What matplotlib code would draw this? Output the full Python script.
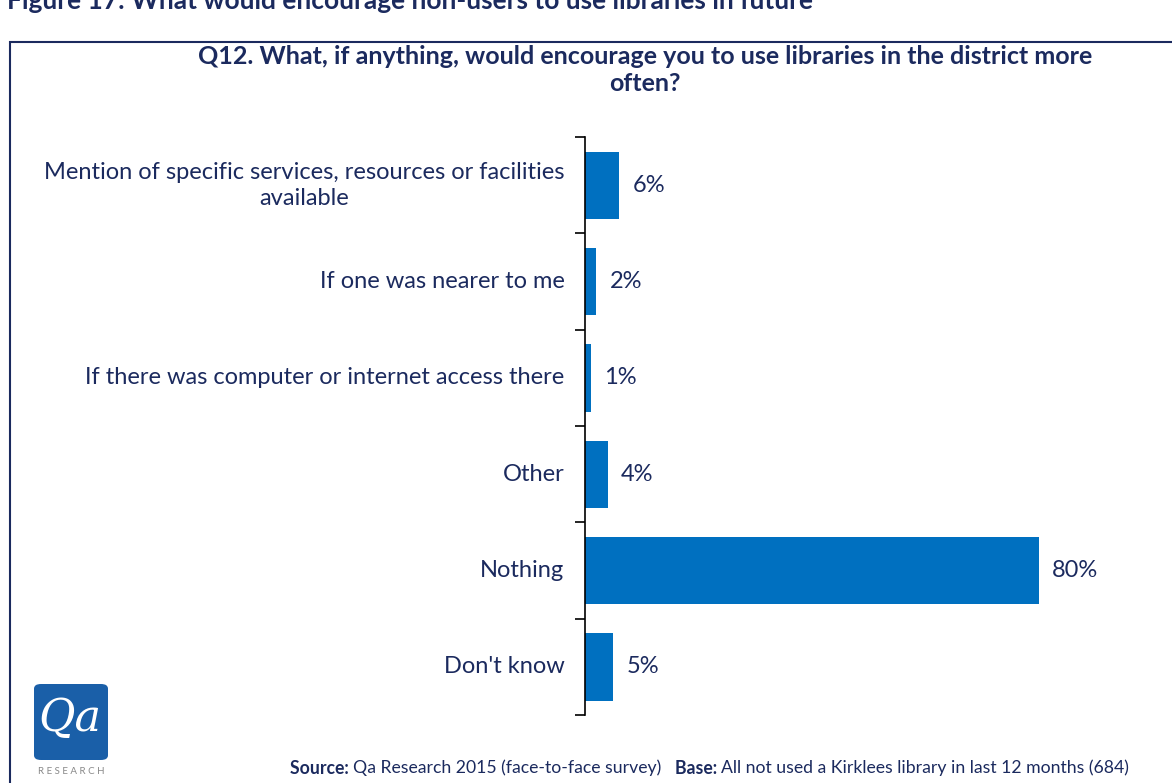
import matplotlib.pyplot as plt
from matplotlib.patches import Rectangle, FancyBboxPatch

# 数据
categories = [
    "Mention of specific services, resources or facilities\navailable",
    "If one was nearer to me",
    "If there was computer or internet access there",
    "Other",
    "Nothing",
    "Don't know",
]
values = [6, 2, 1, 4, 80, 5]

NAVY = "#1b2a5e"
BAR = "#0070c0"
FONT = ["Lato", "DejaVu Sans"]

plt.rcParams['font.family'] = FONT

fig = plt.figure(figsize=(11.72, 7.83), dpi=100)
ax = fig.add_axes([0.499, 0.0868, 0.484, 0.738])

ypos = list(range(len(categories)))
ax.barh(ypos, values, height=0.7, color=BAR)
for y, v in zip(ypos, values):
    ax.text(v + 2.4, y, f"{v}%", va='center', ha='left', fontsize=17, color=NAVY)

ax.set_xlim(0, 100)
ax.set_ylim(len(categories) - 0.5, -0.5)

# 类别标签放在刻度之间, 刻度线在类别边界
ax.set_yticks([i - 0.5 for i in range(len(categories) + 1)])
ax.set_yticklabels([])
ax.tick_params(axis='y', length=7, width=1.2, color='black', direction='out')
for y, cat in zip(ypos, categories):
    ax.text(-3.6, y, cat, ha='right', va='center', fontsize=17, color=NAVY,
            multialignment='center', linespacing=1.3)

ax.set_xticks([])
for s in ['top', 'right', 'bottom']:
    ax.spines[s].set_visible(False)
ax.spines['left'].set_linewidth(1.2)

# 外框和标题
fig.patches.append(Rectangle((10 / 1172, -0.01), 1.0, 1 - 42 / 783 + 0.01,
                             transform=fig.transFigure, fill=False,
                             edgecolor=NAVY, linewidth=1.5))
fig.text(0.006, 1 - 9 / 783, "Figure 17: What would encourage non-users to use libraries in future",
         ha='left', va='baseline', fontsize=19, fontweight='bold', color=NAVY)
fig.text(645 / 1172, 1 - 70 / 783,
         "Q12. What, if anything, would encourage you to use libraries in the district more\noften?",
         ha='center', va='center', fontsize=18, fontweight='bold', color=NAVY,
         linespacing=1.2)

# 来源说明: 粗体标签与正文依次拼接
parts = [("Source: ", 'bold'), ("Qa Research 2015 (face-to-face survey)   ", 'normal'),
         ("Base: ", 'bold'), ("All not used a Kirklees library in last 12 months (684)", 'normal')]
prev = fig.text(290 / 1172, 1 - 768 / 783, parts[0][0], ha='left', va='center',
                fontsize=12.7, fontweight=parts[0][1], color=NAVY)
for txt, w in parts[1:]:
    prev = ax.annotate(txt, xy=(1, 0), xycoords=prev, ha='left', va='bottom',
                       fontsize=12.7, fontweight=w, color=NAVY, annotation_clip=False)

# 标志
logo = FancyBboxPatch((34 / 1172, 1 - 760 / 783), 74 / 1172, 76 / 783,
                      boxstyle="round,pad=0,rounding_size=0.006",
                      transform=fig.transFigure, facecolor="#1a5fa8",
                      edgecolor='none')
fig.patches.append(logo)
fig.text(70 / 1172, 1 - 718 / 783, "Qa", ha='center', va='center', fontsize=32,
         fontstyle='italic', color='white', family=["DejaVu Serif"])
fig.text(71 / 1172, 1 - 772 / 783, "R E S E A R C H", ha='center', va='center',
         fontsize=7, color='#888888')

fig.savefig("out.png", dpi=100)
